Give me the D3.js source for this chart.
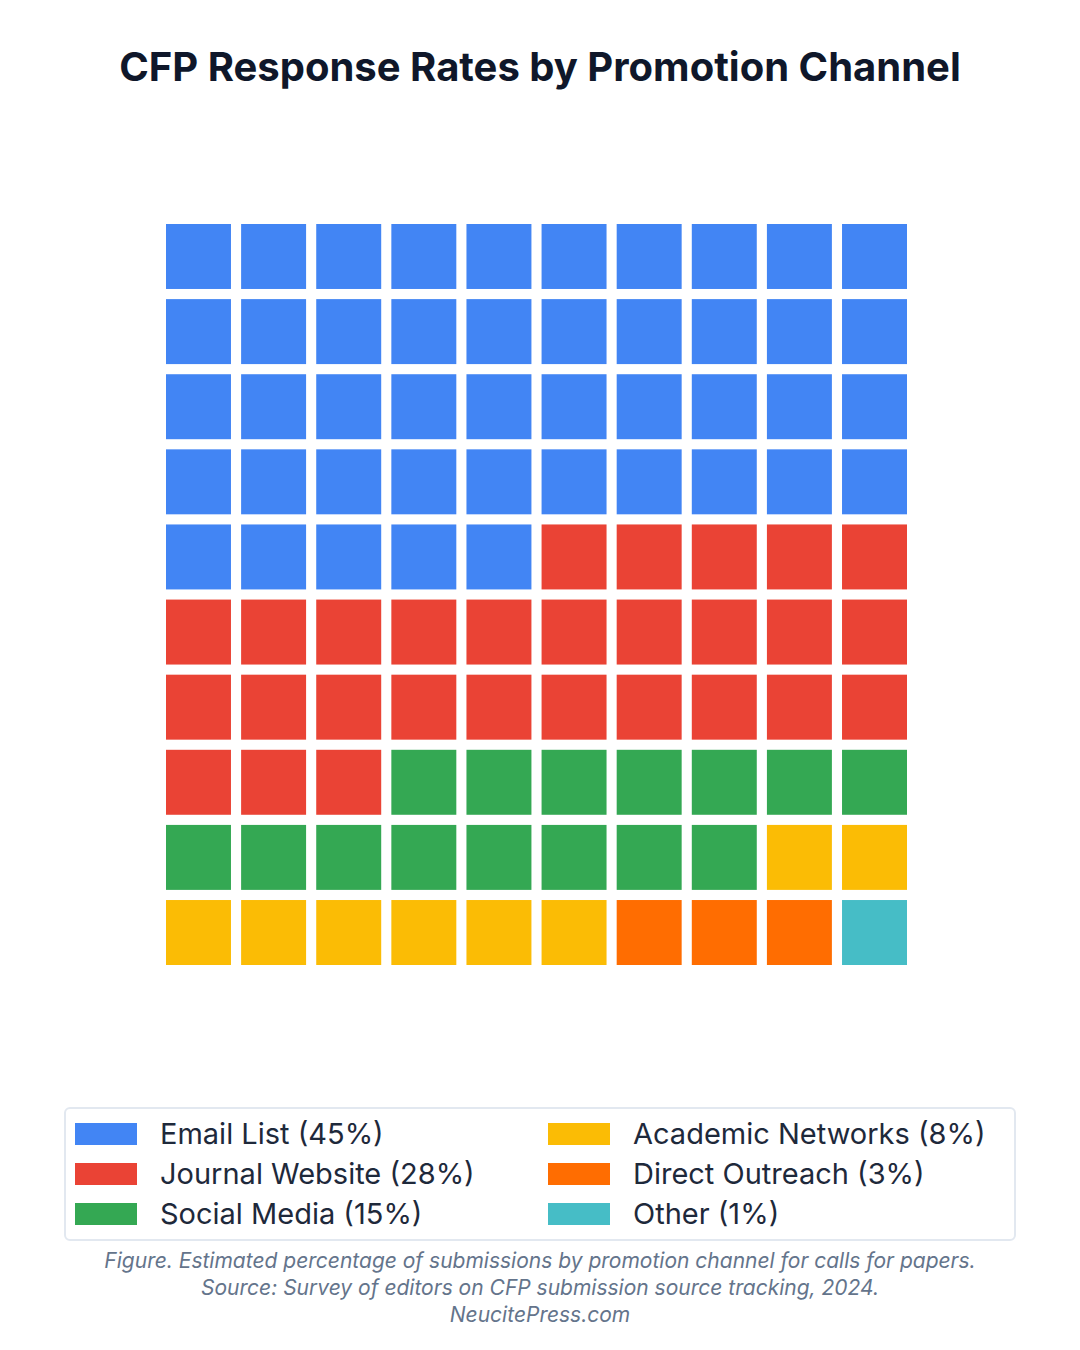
<!DOCTYPE html>
<html lang="en">
<head>
<meta charset="utf-8">
<title>CFP Response Rates by Promotion Channel</title>
<script src="https://d3js.org/d3.v7.min.js"></script>
<style>
  body { margin: 0; background: #fff; }
  text { font-family: Inter, "Open Sans", sans-serif; }
</style>
</head>
<body>
<script>
// data
const channels = ["Email List", "Journal Website", "Social Media", "Academic Networks", "Direct Outreach", "Other"];
const shares = [45, 28, 15, 8, 3, 1];
const colors = ["#4285F4", "#EA4335", "#34A853", "#FBBC05", "#FF6D01", "#46BDC6"];
const captionLines = [
  "Figure. Estimated percentage of submissions by promotion channel for calls for papers.",
  "Source: Survey of editors on CFP submission source tracking, 2024.",
  "NeucitePress.com"
];

const W = 1080, H = 1350;
const svg = d3.select("body").append("svg").attr("width", W).attr("height", H);

svg.append("text")
  .attr("x", W / 2).attr("y", 81)
  .attr("text-anchor", "middle")
  .attr("font-size", 40).attr("font-weight", 700)
  .attr("fill", "#0f172a")
  .text("CFP Response Rates by Promotion Channel");

// one cell per percent
const cells = [];
shares.forEach((s, i) => { for (let k = 0; k < s; k++) cells.push(i); });

const x = d3.scaleBand().domain(d3.range(10)).range([166, 907]).paddingInner(0.135).paddingOuter(0);
const y = d3.scaleBand().domain(d3.range(10)).range([224, 965]).paddingInner(0.135).paddingOuter(0);

svg.append("g").selectAll("rect").data(cells).join("rect")
  .attr("x", (d, i) => x(i % 10))
  .attr("y", (d, i) => y(Math.floor(i / 10)))
  .attr("width", x.bandwidth())
  .attr("height", y.bandwidth())
  .attr("fill", d => colors[d]);

// legend
const lg = svg.append("g");
lg.append("rect")
  .attr("x", 65).attr("y", 1108).attr("width", 950).attr("height", 132)
  .attr("rx", 5).attr("fill", "#fff").attr("stroke", "#e2e8f0").attr("stroke-width", 2);

const colX = [75, 548], rowY = [1134, 1174, 1214];
const items = lg.selectAll("g.item").data(channels).join("g")
  .attr("transform", (d, i) => `translate(${colX[Math.floor(i / 3)]},${rowY[i % 3]})`);
items.append("rect").attr("x", 0).attr("y", -11).attr("width", 62).attr("height", 22)
  .attr("fill", (d, i) => colors[i]);
items.append("text").attr("x", 85).attr("y", 10)
  .attr("font-size", 29).attr("fill", "#1e293b")
  .text((d, i) => `${d} (${shares[i]}%)`);

// caption
svg.append("g").selectAll("text").data(captionLines).join("text")
  .attr("x", W / 2).attr("y", (d, i) => 1268 + i * 27)
  .attr("text-anchor", "middle")
  .attr("font-size", 21).attr("font-style", "italic")
  .attr("fill", "#64748b")
  .text(d => d);
</script>
</body>
</html>
